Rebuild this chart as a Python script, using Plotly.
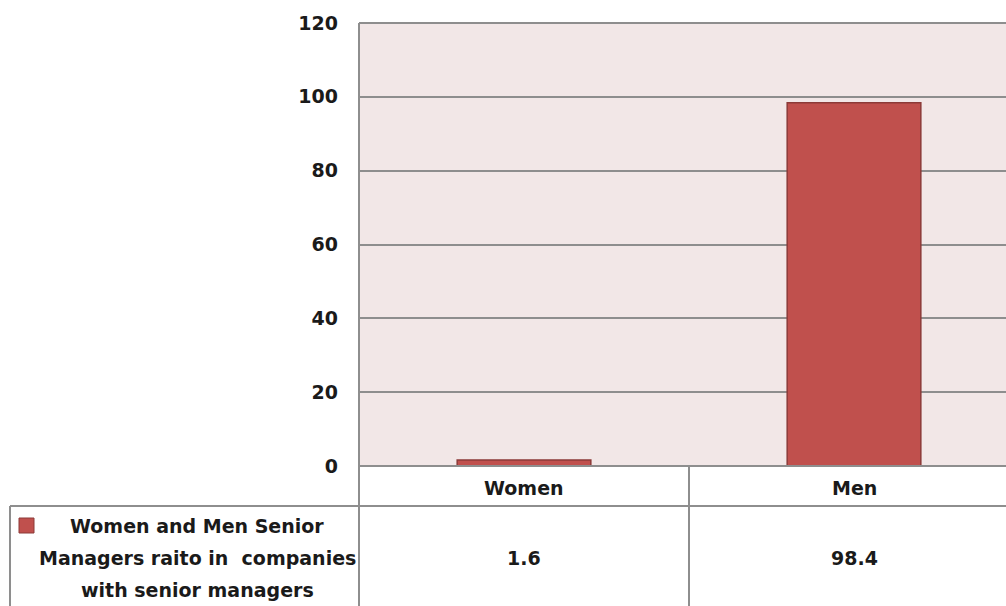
import plotly.graph_objects as go

# Data
categories = ["Women", "Men"]
values = [1.6, 98.4]
series_lines = ["Women and Men Senior", "Managers raito in  companies", "with senior managers"]
y_ticks = [0, 20, 40, 60, 80, 100, 120]

W, H = 1006, 606
BAR = "#c0504d"
BAR_EDGE = "#8c3a38"
GRID = "#8e8e8e"
BG = "#f2e7e7"
FONT = "DejaVu Sans"
TEXT = "#1a1a1a"


def px(x):
    return x / W


def py(y):
    return 1 - y / H


plot_left, plot_top, plot_bottom = 359, 23, 466
cat_step = 330  # pixels per category
header_bottom = 506
legend_left = 10
divider_x = plot_left + cat_step

fig = go.Figure()
fig.add_trace(go.Bar(
    x=categories, y=values, name=" ".join(series_lines),
    marker=dict(color=BAR, line=dict(color=BAR_EDGE, width=1.5)),
    width=0.405, showlegend=False,
))

fig.update_layout(
    width=W, height=H,
    margin=dict(l=0, r=0, t=0, b=0),
    paper_bgcolor="white",
    plot_bgcolor=BG,
    font=dict(family=FONT, color=TEXT),
    xaxis=dict(
        domain=[px(plot_left), 1],
        range=[-0.5, -0.5 + (W - plot_left) / cat_step],
        showticklabels=False, showgrid=False, zeroline=False, showline=False,
        automargin=False, fixedrange=True,
    ),
    yaxis=dict(
        domain=[py(plot_bottom), py(plot_top)],
        range=[0, 120], tickvals=y_ticks,
        showgrid=True, gridcolor=GRID, gridwidth=2,
        zeroline=False, showline=False, automargin=False,
        tickfont=dict(family=FONT, size=19, weight="bold", color=TEXT),
        ticklabelstandoff=20,
    ),
)

line = dict(color=GRID, width=2)
bottom = py(H)
shapes = [
    # plot frame (left and top)
    dict(type="line", xref="paper", yref="paper", x0=px(plot_left), x1=px(plot_left), y0=py(plot_top), y1=bottom, line=line),
    dict(type="line", xref="paper", yref="paper", x0=px(plot_left), x1=1, y0=py(plot_top), y1=py(plot_top), line=line),
    # data table grid
    dict(type="line", xref="paper", yref="paper", x0=px(plot_left), x1=1, y0=py(plot_bottom), y1=py(plot_bottom), line=line),
    dict(type="line", xref="paper", yref="paper", x0=px(legend_left), x1=1, y0=py(header_bottom), y1=py(header_bottom), line=line),
    dict(type="line", xref="paper", yref="paper", x0=px(divider_x), x1=px(divider_x), y0=py(plot_bottom), y1=bottom, line=line),
    dict(type="line", xref="paper", yref="paper", x0=px(legend_left), x1=px(legend_left), y0=py(header_bottom), y1=bottom, line=line),
    # legend key
    dict(type="rect", xref="paper", yref="paper", x0=px(19), x1=px(34), y0=py(533), y1=py(518),
         fillcolor=BAR, line=dict(color=BAR_EDGE, width=1)),
]
fig.update_layout(shapes=shapes)

cell_font = dict(family=FONT, size=19, weight="bold", color=TEXT)
annotations = []
for cat, val in zip(categories, values):
    annotations.append(dict(x=cat, xref="x", y=py((plot_bottom + header_bottom) / 2 + 2), yref="paper",
                            text=cat, showarrow=False, font=cell_font, xanchor="center", yanchor="middle"))
    annotations.append(dict(x=cat, xref="x", y=py(558), yref="paper",
                            text=f"{val}", showarrow=False, font=cell_font, xanchor="center", yanchor="middle"))
# series name, one row per line inside the legend cell
for i, txt in enumerate(series_lines):
    annotations.append(dict(x=px(197), xref="paper", y=py(526 + 32 * i), yref="paper", text=txt,
                            showarrow=False, font=cell_font, xanchor="center", yanchor="middle"))
fig.update_layout(annotations=annotations)

fig.write_html("out.html")
